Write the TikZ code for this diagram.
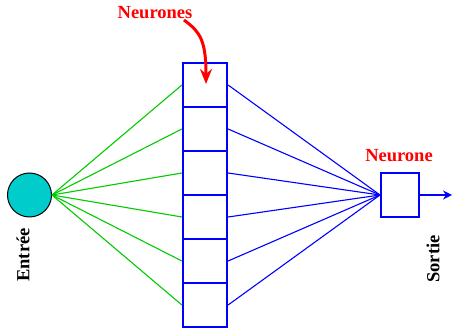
\documentclass[tikz,border=0pt]{standalone}
\usepackage{fontspec}
\setmainfont{Liberation Serif}
\usetikzlibrary{arrows.meta}
\definecolor{netgreen}{RGB}{0,204,0}
\definecolor{netblue}{RGB}{0,0,255}
\definecolor{netred}{RGB}{255,0,0}
\definecolor{netcyan}{RGB}{0,204,204}
\begin{document}
\begin{tikzpicture}[x=1pt,y=-1pt,
  lbl/.style={font=\fontsize{18.5}{20}\selectfont\bfseries, inner sep=0pt},
  cell/.style={draw=netblue, line width=2.2pt, minimum width=44pt, minimum height=44pt, inner sep=0pt},
  inlink/.style={draw=netgreen, line width=1.1pt},
  outlink/.style={draw=netblue, line width=1.1pt}]
\useasboundingbox[fill=white] (0,0) rectangle (453,328);

% input unit
\node[circle, draw=black, line width=1pt, fill=netcyan, minimum size=44pt, inner sep=0pt] (in) at (29.5,195) {};
\node[lbl, rotate=90] (inlbl) at (23,255) {Entrée};

% hidden layer: six stacked cells
\foreach \i in {1,...,6} {
  \node[cell] (h\i) at (205,{41+44*\i}) {};
}

% output unit
\node[draw=netblue, line width=2pt, minimum width=38pt, minimum height=44pt, inner sep=0pt] (out) at (400,195) {};
\coordinate (outend) at (452,195);
\node[lbl, rotate=90] (outlbl) at (433,259) {Sortie};

% connections
\foreach \i in {1,...,6} {
  \draw[inlink] (in.east) -- (h\i.west);
  \draw[outlink] (h\i.east) -- (out.west);
}
\draw[netblue, line width=1.5pt, -{Stealth[length=9pt,width=9pt]}] (out.east) -- (outend);

% labels
\node[lbl, text=netred] (hl) at (155,13) {Neurones};
\node[lbl, text=netred] (ol) at (399,156) {Neurone};
\coordinate (hstart) at (184,20);
\coordinate (htip) at (206,84);
\draw[netred, line width=3pt, -{Stealth[length=15pt,width=12pt]}] (hstart) .. controls (200,32) and (206,40) .. (htip);
\end{tikzpicture}
\end{document}
